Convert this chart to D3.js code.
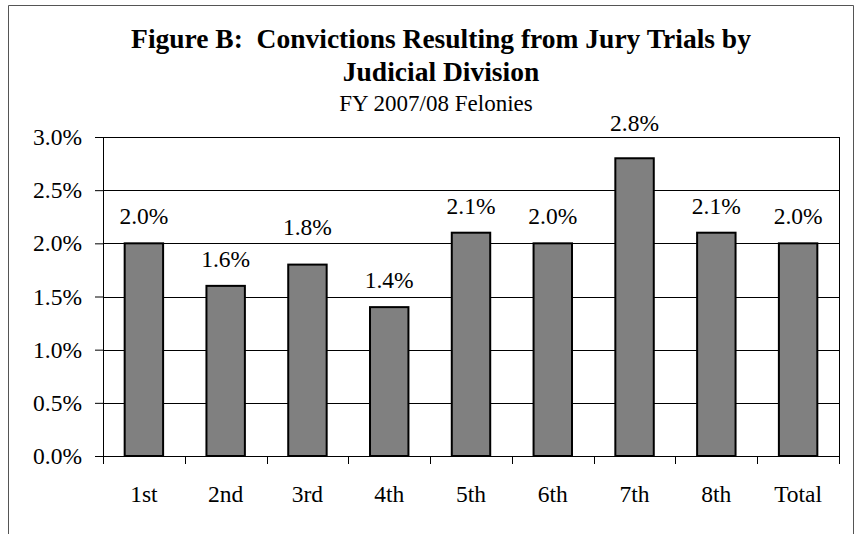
<!DOCTYPE html>
<html>
<head>
<meta charset="utf-8">
<script src="https://cdn.jsdelivr.net/npm/d3@7"></script>
<style>
  body { margin: 0; background: #fff; }
  svg { display: block; font-family: "Liberation Serif", "Times New Roman", serif; }
</style>
</head>
<body>
<svg id="chart" width="859" height="534"></svg>
<script>
const divisions = ['1st', '2nd', '3rd', '4th', '5th', '6th', '7th', '8th', 'Total'];
const convictionRates = [2.0, 1.6, 1.8, 1.4, 2.1, 2.0, 2.8, 2.1, 2.0];
const yTicks = [0, 0.5, 1.0, 1.5, 2.0, 2.5, 3.0];

const svg = d3.select('#chart');
const margin = { top: 137, right: 20, bottom: 78, left: 103 };
const plotW = 839 - margin.left;
const plotH = 456 - margin.top;
const FONT = '"Liberation Serif", "Times New Roman", serif';
const LABEL_SIZE = 23.5;
// label gap above bar top; a few labels were pushed up off the gridlines
const LABEL_GAP = 19;
const LABEL_GAP_NUDGE = { '3rd': 30, '7th': 27 };

// outer frame (bottom edge falls outside the picture)
svg.append('path')
  .attr('d', 'M8.5,540 V5.5 H853.5 V540')
  .attr('fill', 'none')
  .attr('stroke', '#555')
  .attr('stroke-width', 1);

svg.append('text')
  .attr('x', 441).attr('y', 48)
  .attr('text-anchor', 'middle')
  .attr('font-size', 27.5).attr('font-weight', 'bold')
  .attr('xml:space', 'preserve')
  .text('Figure B:  Convictions Resulting from Jury Trials by');

svg.append('text')
  .attr('x', 441).attr('y', 81)
  .attr('text-anchor', 'middle')
  .attr('font-size', 27.5).attr('font-weight', 'bold')
  .text('Judicial Division');

svg.append('text')
  .attr('x', 436).attr('y', 111)
  .attr('text-anchor', 'middle')
  .attr('font-size', 23)
  .text('FY 2007/08 Felonies');

const g = svg.append('g').attr('transform', `translate(${margin.left},${margin.top})`);

const x = d3.scaleBand().domain(divisions).range([0, plotW]).paddingInner(0.53).paddingOuter(0.265);
const xOuter = d3.scaleBand().domain(divisions).range([0, plotW]);
const y = d3.scaleLinear().domain([0, 3.0]).range([plotH, 0]);

// gridlines
g.append('g')
  .selectAll('line')
  .data(yTicks)
  .enter()
  .append('line')
  .attr('x1', 0).attr('x2', plotW)
  .attr('y1', (d) => Math.round(y(d)) + 0.5)
  .attr('y2', (d) => Math.round(y(d)) + 0.5)
  .attr('stroke', '#000')
  .attr('stroke-width', 1);

// right border of plot
g.append('line')
  .attr('x1', plotW + 0.5).attr('x2', plotW + 0.5)
  .attr('y1', 0).attr('y2', plotH)
  .attr('stroke', '#000');

// bars
g.selectAll('rect.bar')
  .data(convictionRates)
  .enter()
  .append('rect')
  .attr('class', 'bar')
  .attr('x', (d, i) => x(divisions[i]))
  .attr('y', (d) => y(d))
  .attr('width', x.bandwidth())
  .attr('height', (d) => plotH - y(d))
  .attr('fill', '#808080')
  .attr('stroke', '#000')
  .attr('stroke-width', 2);

// value labels
g.selectAll('text.val')
  .data(convictionRates)
  .enter()
  .append('text')
  .attr('class', 'val')
  .attr('x', (d, i) => x(divisions[i]) + x.bandwidth() / 2)
  .attr('y', (d, i) => y(d) - (LABEL_GAP_NUDGE[divisions[i]] || LABEL_GAP))
  .attr('text-anchor', 'middle')
  .attr('font-size', LABEL_SIZE)
  .text((d) => d.toFixed(1) + '%');

// y axis
const yAxis = g.append('g')
  .call(d3.axisLeft(y).tickValues(yTicks).tickSize(8).tickPadding(13).tickFormat((d) => d.toFixed(1) + '%'));
yAxis.selectAll('text').attr('font-size', LABEL_SIZE).attr('font-family', FONT).attr('fill', '#000');
yAxis.select('.domain').attr('d', `M-8,0.5H0.5V${plotH}`);

// x axis
const xAxisG = g.append('g').attr('transform', `translate(0,${plotH})`);
xAxisG.append('line').attr('x1', 0).attr('x2', plotW).attr('y1', 0.5).attr('y2', 0.5).attr('stroke', '#000');
xAxisG.selectAll('line.tick')
  .data(divisions.concat(['end']))
  .enter()
  .append('line')
  .attr('class', 'tick')
  .attr('x1', (d, i) => Math.round(i * xOuter.step()) + 0.5)
  .attr('x2', (d, i) => Math.round(i * xOuter.step()) + 0.5)
  .attr('y1', 0).attr('y2', 8)
  .attr('stroke', '#000');
xAxisG.selectAll('text')
  .data(divisions)
  .enter()
  .append('text')
  .attr('x', (d) => xOuter(d) + xOuter.bandwidth() / 2)
  .attr('y', 46)
  .attr('text-anchor', 'middle')
  .attr('font-size', LABEL_SIZE)
  .text((d) => d);
</script>
</body>
</html>
